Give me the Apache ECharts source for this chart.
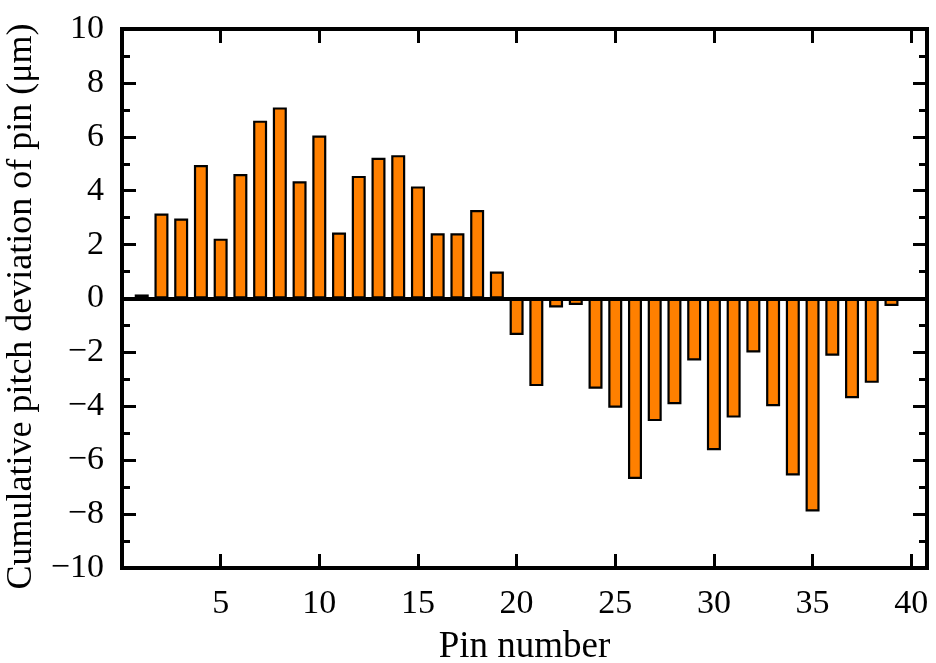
<!DOCTYPE html>
<html>
<head>
<meta charset="utf-8">
<script src="https://cdn.jsdelivr.net/npm/echarts@6/dist/echarts.min.js"></script>
<style>html,body{margin:0;padding:0;background:#fff}#c{width:936px;height:663px}</style>
</head>
<body>
<div id="c"></div>
<script>
const pins = [1,2,3,4,5,6,7,8,9,10,11,12,13,14,15,16,17,18,19,20,21,22,23,24,25,26,27,28,29,30,31,32,33,34,35,36,37,38,39];
const deviation = [0.15,3.15,2.97,4.95,2.22,4.62,6.6,7.09,4.35,6.05,2.45,4.55,5.22,5.32,4.16,2.42,2.42,3.28,1.0,
  -1.35,-3.25,-0.33,-0.24,-3.35,-4.05,-6.7,-4.55,-3.92,-2.3,-5.63,-4.42,-2.0,-4.0,-6.57,-7.9,-2.12,-3.7,-3.13,-0.28];
const xTicks = [5,10,15,20,25,30,35,40];
const xTitle = 'Pin number';
const yTitle = 'Cumulative pitch deviation of pin (μm)';

const FONT = "'Liberation Serif','Times New Roman',serif";
const chart = echarts.init(document.getElementById('c'));
const fmtY = v => v < 0 ? '\u2212' + Math.abs(v) : String(v);
const fmtX = v => xTicks.indexOf(v) >= 0 ? String(v) : '';
const axLine = {show:true, onZero:false, lineStyle:{color:'#000', width:4, cap:'square'}};
const majTick = {show:true, inside:true, length:14, lineStyle:{color:'#000', width:3}};
const minTick = {show:true, splitNumber:2, length:8, lineStyle:{color:'#000', width:3}};
chart.setOption({
  animation:false,
  grid:{left:122, right:9, top:29, bottom:95, containLabel:false, outerBoundsMode:'none'},
  xAxis:[{
    type:'value', min:0, max:40.8, interval:5, position:'bottom',
    axisLine:axLine, axisTick:majTick,
    axisLabel:{formatter:fmtX, fontFamily:FONT, fontSize:34, color:'#000', margin:19, showMinLabel:false, showMaxLabel:false},
    splitLine:{show:false},
    name:xTitle, nameLocation:'middle', nameGap:61,
    nameTextStyle:{fontFamily:FONT, fontSize:37, color:'#000'}
  },{
    type:'value', min:0, max:40.8, interval:5, position:'top',
    axisLine:axLine, axisTick:majTick,
    axisLabel:{show:false}, splitLine:{show:false}
  }],
  yAxis:[{
    type:'value', min:-10, max:10, interval:2, position:'left',
    axisLine:axLine, axisTick:majTick, minorTick:minTick,
    axisLabel:{formatter:fmtY, fontFamily:FONT, fontSize:34, color:'#000', margin:18},
    splitLine:{show:false},
    name:yTitle, nameLocation:'middle', nameGap:68, nameRotate:90,
    nameTextStyle:{fontFamily:FONT, fontSize:36, color:'#000', padding:[0,16,0,0]}
  },{
    type:'value', min:-10, max:10, interval:2, position:'right',
    axisLine:axLine, axisTick:majTick, minorTick:minTick,
    axisLabel:{show:false}, splitLine:{show:false}
  }],
  series:[{
    type:'bar', xAxisIndex:0, yAxisIndex:0,
    data: pins.map((p,i)=>[p, deviation[i]]),
    barWidth:14,
    itemStyle:{color:'#FF8000', borderColor:'#000', borderWidth:2.2},
    markLine:{silent:true, symbol:'none', label:{show:false},
      lineStyle:{color:'#000', width:4, type:'solid'},
      data:[{yAxis:0}]}
  }]
});
</script>
</body>
</html>
